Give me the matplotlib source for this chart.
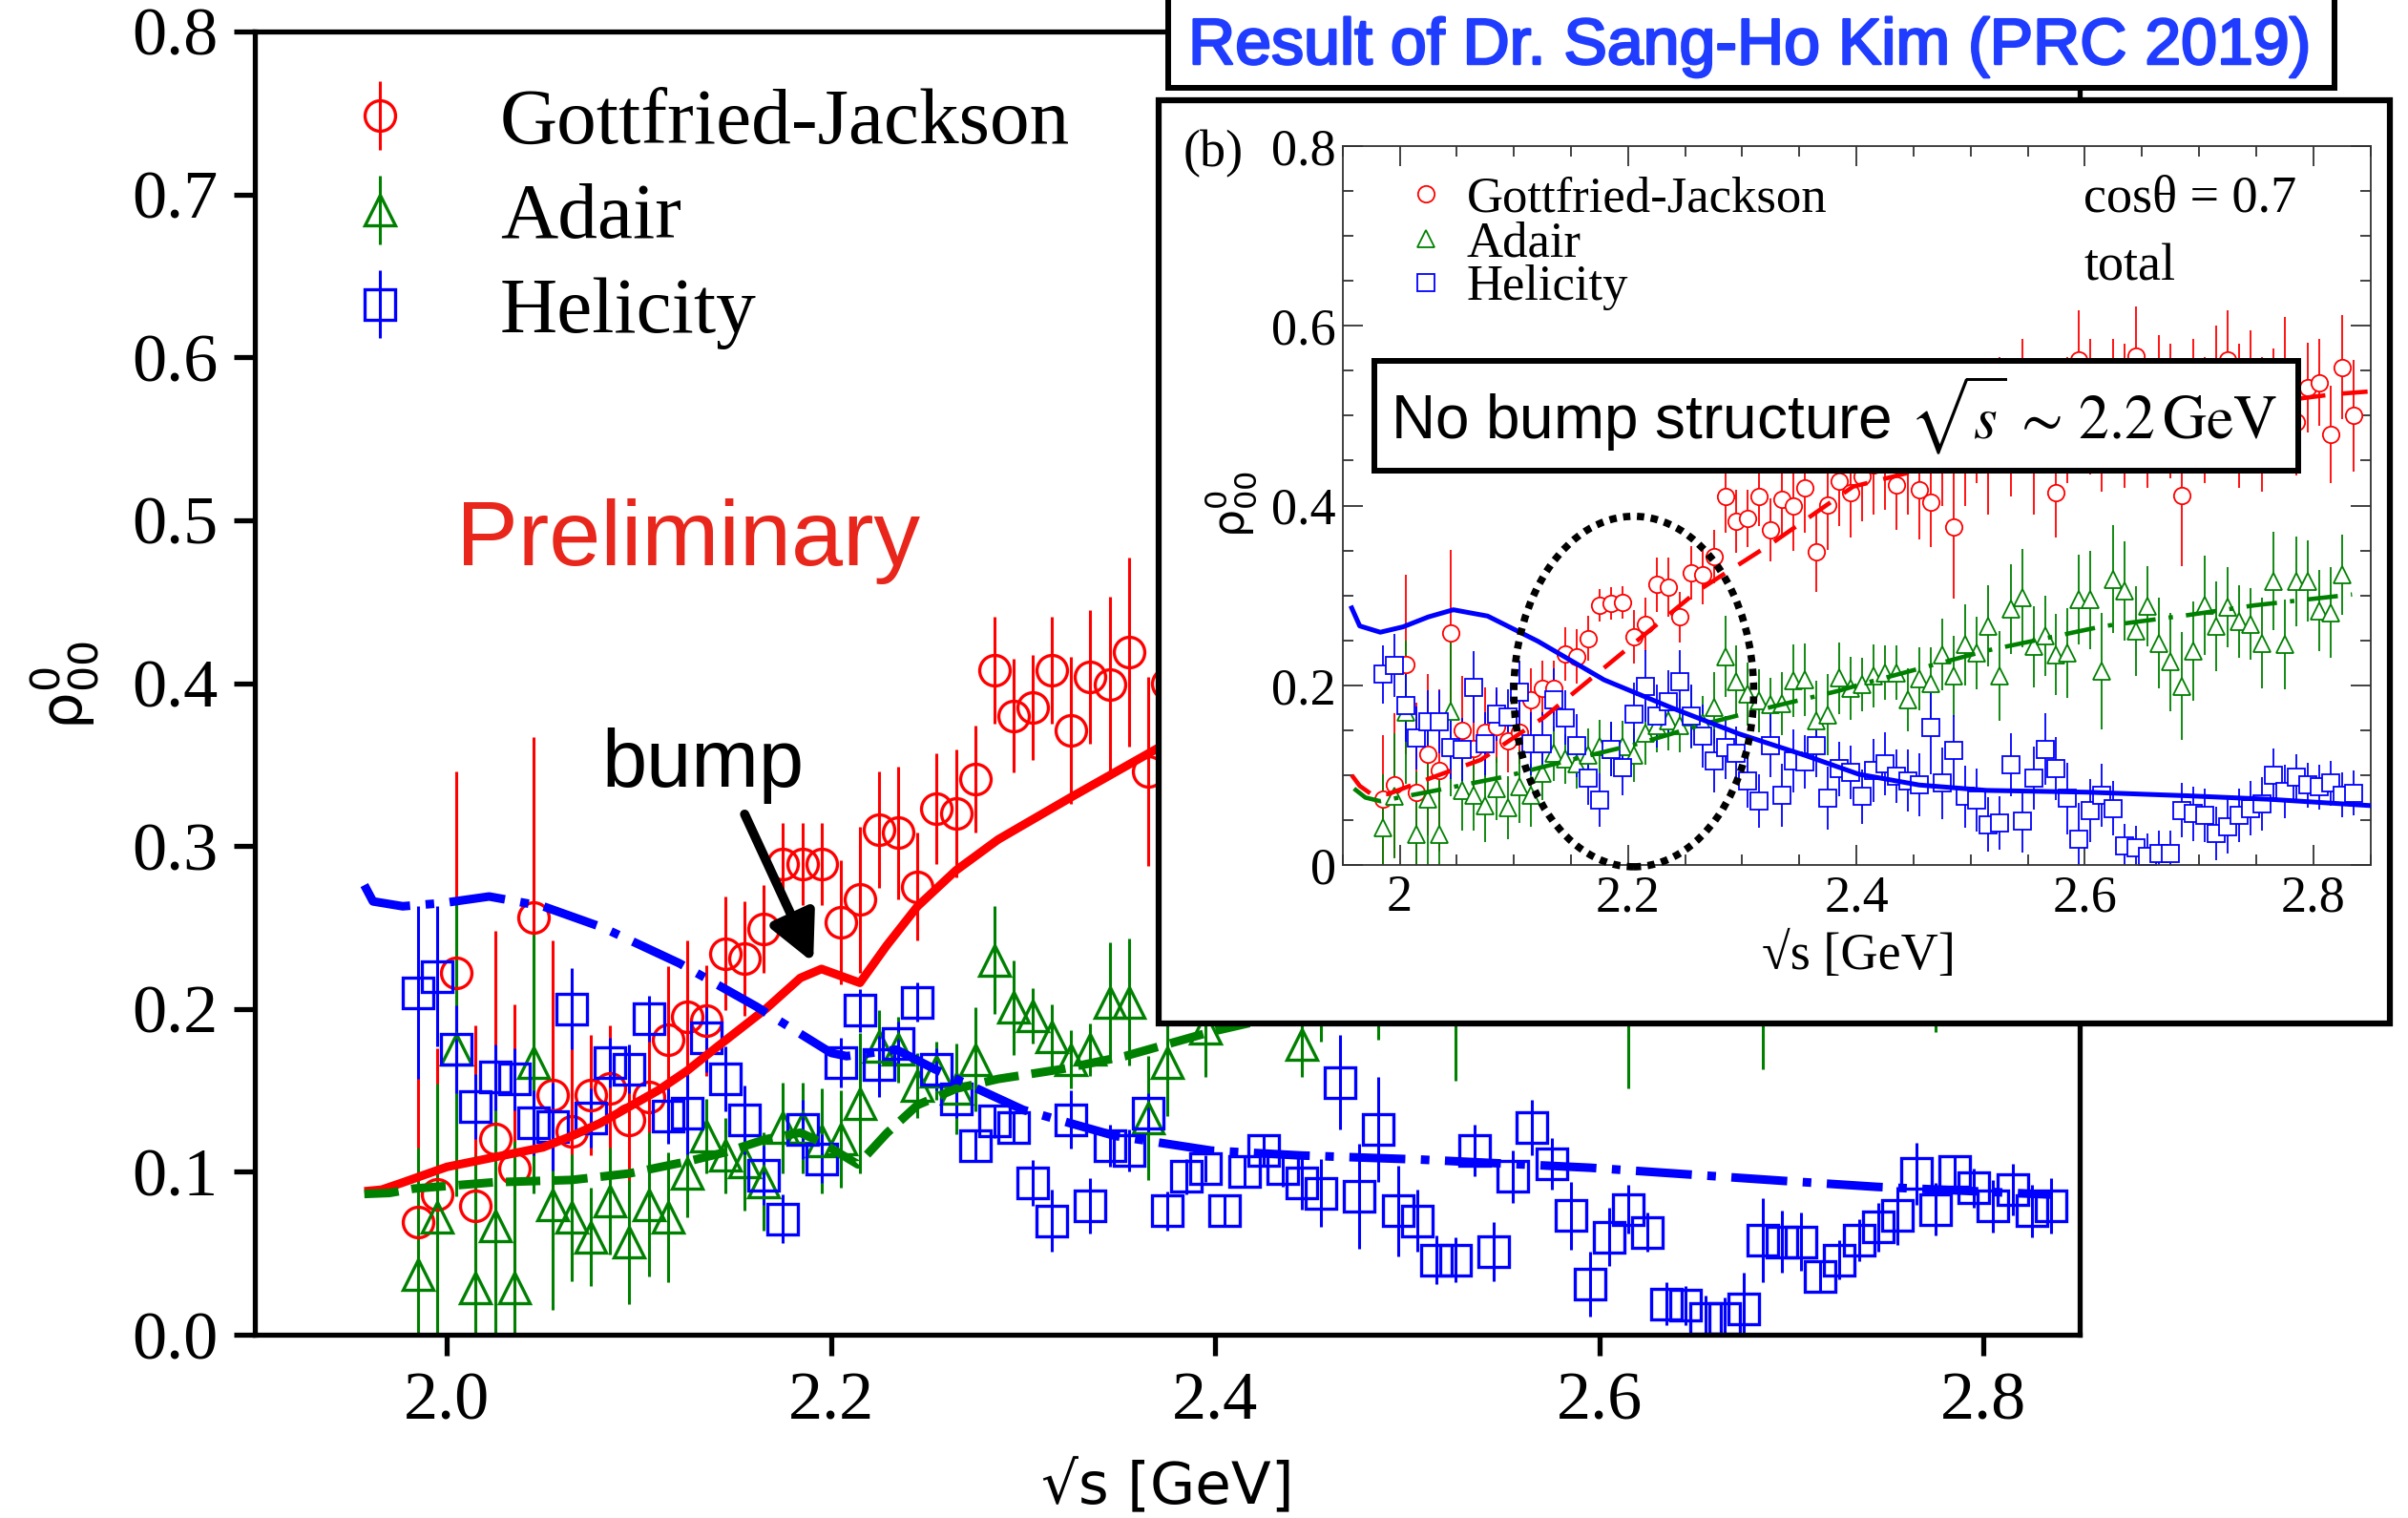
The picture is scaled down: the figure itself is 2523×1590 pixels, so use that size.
import matplotlib
matplotlib.use("Agg")
import matplotlib.pyplot as plt
import matplotlib.patheffects as pe
from matplotlib.patches import Rectangle, Ellipse
from matplotlib.container import ErrorbarContainer
from matplotlib.legend_handler import HandlerErrorbar
from matplotlib.lines import Line2D
from matplotlib.ticker import FormatStrFormatter, MultipleLocator

plt.rcParams['font.family'] = ['Liberation Serif', 'DejaVu Serif']

# ---------------- main plot data ----------------
main_x = [1.985, 1.995, 2.005, 2.015, 2.025, 2.035, 2.045, 2.055, 2.065, 2.075,
          2.085, 2.095, 2.105, 2.115, 2.125, 2.135, 2.145, 2.155, 2.165, 2.175,
          2.185, 2.195, 2.205, 2.215, 2.225, 2.235, 2.245, 2.255, 2.265, 2.275,
          2.285, 2.295, 2.305, 2.315, 2.325, 2.335, 2.345, 2.355, 2.365, 2.375]
main_gj_y = [0.069, 0.086, 0.222, 0.079, 0.120, 0.102, 0.256, 0.147, 0.125, 0.147,
             0.151, 0.132, 0.146, 0.181, 0.195, 0.193, 0.234, 0.231, 0.249, 0.289,
             0.289, 0.289, 0.253, 0.267, 0.310, 0.308, 0.275, 0.323, 0.320, 0.341,
             0.408, 0.380, 0.385, 0.408, 0.371, 0.404, 0.399, 0.419, 0.346, 0.400]
main_gj_err = [.090, .090, .124, .111, .128, .101, .111, .095, .090, .037,
               .039, .040, .041, .045, .047, .034, .035, .035, .027, .025,
               .025, .025, .038, .045, .036, .041, .033, .034, .039, .033,
               .033, .035, .032, .033, .045, .041, .054, .058, .058, .050]

main_ad_x = main_x + [2.395, 2.445, 2.455, 2.485, 2.525, 2.615, 2.685, 2.775]
main_ad_y = [0.037, 0.072, 0.175, 0.029, 0.067, 0.029, 0.167, 0.080, 0.072, 0.060,
             0.082, 0.057, 0.080, 0.072, 0.099, 0.122, 0.110, 0.106, 0.094, 0.127,
             0.127, 0.119, 0.120, 0.142, 0.177, 0.175, 0.153, 0.162, 0.151, 0.169,
             0.230, 0.201, 0.196, 0.183, 0.169, 0.175, 0.204, 0.204, 0.133, 0.167,
             0.188, 0.178, 0.215, 0.235, 0.220, 0.230, 0.205, 0.230]
main_ad_err = [.078, .082, .090, .081, .104, .090, .080, .065, .039, .030,
               .033, .038, .044, .040, .027, .023, .023, .030, .030, .028,
               .028, .032, .030, .043, .022, .020, .020, .018, .028, .032,
               .033, .029, .017, .020, .018, .016, .037, .039, .038, .033,
               .030, .020, .035, .054, .064, .079, .042, .044]

full_x = main_x + [2.385, 2.395, 2.405, 2.415, 2.425, 2.435, 2.445, 2.455, 2.465, 2.475,
                   2.485, 2.495, 2.505, 2.515, 2.525, 2.535, 2.545, 2.555, 2.565, 2.575,
                   2.585, 2.595, 2.605, 2.615, 2.625, 2.635, 2.645, 2.655, 2.665, 2.675,
                   2.685, 2.695, 2.705, 2.715, 2.725, 2.735, 2.745, 2.755, 2.765, 2.775,
                   2.785, 2.795, 2.805, 2.815, 2.825, 2.835]
main_hel_y = [0.210, 0.220, 0.175, 0.140, 0.158, 0.157, 0.130, 0.128, 0.200, 0.133,
              0.167, 0.163, 0.194, 0.134, 0.136, 0.182, 0.157, 0.132, 0.098, 0.071,
              0.126, 0.108, 0.167, 0.199, 0.166, 0.179, 0.204, 0.163, 0.145, 0.116,
              0.131, 0.127, 0.093, 0.070, 0.132, 0.079, 0.116, 0.113, 0.136, 0.076,
              0.097, 0.102, 0.076, 0.100, 0.113, 0.102, 0.093, 0.087, 0.155, 0.085,
              0.126, 0.076, 0.070, 0.046, 0.046, 0.113, 0.051, 0.097, 0.127, 0.105,
              0.073, 0.031, 0.060, 0.077, 0.063, 0.019, 0.018, 0.010, 0.010, 0.016,
              0.058, 0.057, 0.057, 0.036, 0.046, 0.058, 0.066, 0.073, 0.099, 0.077,
              0.100, 0.090, 0.079, 0.089, 0.076, 0.079]
main_hel_err = [.053, .043, .027, .020, .020, .019, .020, .027, .025, .018,
                .015, .015, .014, .017, .025, .021, .020, .021, .018, .015,
                .018, .015, .015, .013, .020, .013, .012, .013, .012, .010,
                .010, .010, .014, .019, .018, .017, .013, .013, .012, .012,
                .011, .008, .010, .010, .009, .011, .016, .021, .029, .032,
                .032, .028, .019, .015, .014, .016, .018, .016, .017, .016,
                .021, .020, .018, .015, .012, .013, .012, .014, .013, .022,
                .026, .019, .018, .010, .012, .013, .015, .018, .019, .016,
                .010, .012, .016, .016, .016, .017]

# model curves (main)
gj_line_x = [1.957, 1.966, 1.976, 2.0, 2.025, 2.05, 2.065, 2.08, 2.092, 2.11, 2.125,
             2.141, 2.166, 2.184, 2.195, 2.215, 2.229, 2.245, 2.265, 2.287, 2.325, 2.37, 2.40, 2.45]
gj_line_y = [0.088, 0.089, 0.093, 0.103, 0.109, 0.115, 0.122, 0.130, 0.138, 0.150, 0.162,
             0.177, 0.200, 0.219, 0.2245, 0.216, 0.239, 0.263, 0.285, 0.304, 0.330, 0.360, 0.375, 0.40]
ad_line_x = [1.957, 1.97, 1.983, 2.025, 2.065, 2.095, 2.125, 2.145, 2.166, 2.184, 2.195,
             2.214, 2.229, 2.245, 2.265, 2.287, 2.32, 2.353, 2.398, 2.45]
ad_line_y = [0.0864, 0.087, 0.0897, 0.0936, 0.095, 0.099, 0.1063, 0.112, 0.12, 0.124, 0.118,
             0.1045, 0.1237, 0.141, 0.151, 0.157, 0.163, 0.171, 0.186, 0.20]
hel_line_x = [1.957, 1.9615, 1.977, 1.998, 2.022, 2.05, 2.081, 2.121, 2.161, 2.2, 2.208,
              2.234, 2.254, 2.3, 2.348, 2.398, 2.445, 2.507, 2.595, 2.695, 2.745, 2.835]
hel_line_y = [0.276, 0.266, 0.263, 0.265, 0.269, 0.263, 0.250, 0.228, 0.2015, 0.173, 0.171,
              0.175, 0.163, 0.138, 0.122, 0.113, 0.110, 0.1075, 0.1025, 0.0945, 0.0907, 0.086]

# ---------------- inset data ----------------
in_gj_y = [0.073, 0.089, 0.223, 0.081, 0.123, 0.105, 0.258, 0.150, 0.130, 0.148,
           0.154, 0.138, 0.148, 0.184, 0.197, 0.197, 0.235, 0.232, 0.252, 0.289,
           0.291, 0.292, 0.254, 0.268, 0.312, 0.309, 0.276, 0.325, 0.323, 0.343,
           0.410, 0.382, 0.386, 0.410, 0.373, 0.407, 0.400, 0.420, 0.349, 0.401,
           0.427, 0.414, 0.432, 0.445, 0.450, 0.423, 0.450, 0.417, 0.404, 0.460,
           0.376, 0.470, 0.490, 0.465, 0.505, 0.480, 0.520, 0.470, 0.500, 0.414,
           0.495, 0.562, 0.510, 0.480, 0.525, 0.500, 0.566, 0.490, 0.530, 0.505,
           0.411, 0.520, 0.495, 0.540, 0.562, 0.500, 0.530, 0.490, 0.515, 0.545,
           0.493, 0.531, 0.537, 0.479, 0.554, 0.500]
in_gj_err = [.072, .080, .100, .100, .090, .090, .093, .060, .060, .050,
             .040, .035, .035, .035, .030, .030, .030, .030, .025, .018,
             .018, .018, .030, .030, .030, .033, .028, .030, .033, .030,
             .040, .035, .032, .033, .035, .040, .050, .050, .045, .050,
             .050, .050, .050, .055, .055, .050, .060, .055, .050, .060,
             .080, .070, .065, .075, .060, .070, .065, .080, .060, .050,
             .070, .055, .075, .065, .060, .080, .055, .070, .060, .075,
             .078, .065, .070, .060, .055, .080, .065, .075, .060, .065,
             .060, .050, .048, .054, .058, .062]
in_ad_y = [0.041, 0.077, 0.170, 0.034, 0.073, 0.034, 0.171, 0.083, 0.078, 0.066,
           0.085, 0.064, 0.087, 0.078, 0.102, 0.124, 0.118, 0.113, 0.122, 0.132,
           0.129, 0.132, 0.122, 0.147, 0.155, 0.160, 0.155, 0.165, 0.158, 0.175,
           0.232, 0.204, 0.190, 0.183, 0.178, 0.180, 0.205, 0.206, 0.160, 0.167,
           0.208, 0.197, 0.201, 0.210, 0.214, 0.214, 0.184, 0.207, 0.202, 0.234,
           0.210, 0.245, 0.236, 0.266, 0.210, 0.285, 0.297, 0.243, 0.255, 0.234,
           0.236, 0.295, 0.295, 0.216, 0.318, 0.305, 0.260, 0.288, 0.247, 0.226,
           0.199, 0.238, 0.289, 0.266, 0.287, 0.271, 0.268, 0.247, 0.316, 0.245,
           0.316, 0.316, 0.283, 0.281, 0.323]
in_ad_err = [.060, .070, .080, .070, .090, .080, .095, .045, .040, .040,
             .035, .035, .040, .035, .030, .030, .028, .028, .030, .030,
             .030, .028, .030, .035, .030, .032, .030, .035, .030, .040,
             .045, .040, .035, .035, .030, .035, .040, .040, .045, .045,
             .040, .035, .030, .035, .030, .030, .035, .035, .040, .040,
             .045, .045, .040, .045, .050, .050, .055, .045, .045, .045,
             .050, .050, .055, .065, .060, .055, .050, .045, .050, .055,
             .060, .055, .055, .050, .045, .040, .040, .050, .055, .050,
             .050, .045, .045, .050, .045]
in_hel_y = [0.212, 0.222, 0.177, 0.141, 0.159, 0.159, 0.131, 0.129, 0.198, 0.135,
            0.168, 0.165, 0.192, 0.135, 0.135, 0.184, 0.164, 0.133, 0.097, 0.072,
            0.129, 0.108, 0.168, 0.199, 0.166, 0.182, 0.204, 0.166, 0.143, 0.116,
            0.131, 0.124, 0.094, 0.071, 0.133, 0.078, 0.116, 0.115, 0.133, 0.074,
            0.107, 0.103, 0.076, 0.105, 0.113, 0.099, 0.094, 0.089, 0.153, 0.091,
            0.127, 0.076, 0.072, 0.045, 0.047, 0.112, 0.049, 0.097, 0.129, 0.107,
            0.074, 0.029, 0.061, 0.078, 0.063, 0.021, 0.019, 0.010, 0.013, 0.013,
            0.061, 0.057, 0.055, 0.035, 0.043, 0.055, 0.063, 0.068, 0.100, 0.082,
            0.098, 0.089, 0.087, 0.091, 0.078, 0.080]
in_hel_err = [.032, .035, .040, .035, .035, .035, .035, .035, .040, .035,
              .030, .030, .035, .035, .035, .035, .030, .035, .030, .030,
              .030, .030, .035, .040, .035, .035, .035, .035, .035, .035,
              .035, .030, .030, .030, .035, .035, .035, .030, .035, .035,
              .030, .030, .030, .035, .035, .030, .035, .035, .052, .040,
              .040, .035, .035, .030, .030, .035, .035, .035, .040, .035,
              .040, .040, .035, .035, .030, .025, .025, .025, .025, .025,
              .030, .030, .030, .030, .030, .030, .030, .030, .030, .030,
              .025, .025, .025, .025, .025, .025]

in_gj_line_x = [1.958, 1.965, 1.975, 1.99, 2.032, 2.071, 2.126, 2.194, 2.261, 2.326, 2.397,
                2.444, 2.55, 2.65, 2.75, 2.819, 2.85]
in_gj_line_y = [0.100, 0.088, 0.079, 0.079, 0.099, 0.117, 0.164, 0.235, 0.305, 0.358, 0.421,
                0.436, 0.470, 0.495, 0.513, 0.524, 0.527]
in_ad_line_x = [1.96, 1.97, 1.983, 2.032, 2.091, 2.150, 2.209, 2.267, 2.326, 2.385, 2.405,
                2.514, 2.616, 2.69, 2.749, 2.834]
in_ad_line_y = [0.085, 0.075, 0.071, 0.083, 0.098, 0.117, 0.135, 0.157, 0.176, 0.194, 0.2015,
                0.2385, 0.2657, 0.278, 0.289, 0.301]
in_hel_line_x = [1.958, 1.965, 1.983, 2.003, 2.025, 2.047, 2.077, 2.121, 2.179, 2.238, 2.297,
                 2.355, 2.402, 2.455, 2.514, 2.602, 2.69, 2.763, 2.851]
in_hel_line_y = [0.286, 0.266, 0.259, 0.265, 0.276, 0.284, 0.277, 0.249, 0.206, 0.175, 0.146,
                 0.122, 0.101, 0.089, 0.083, 0.081, 0.077, 0.073, 0.066]

labels = ['Gottfried-Jackson', 'Adair', 'Helicity']
RED, GREEN, BLUE = '#ff0000', '#008000', '#0000ff'

W, H = 2523, 1590
fig = plt.figure(figsize=(W / 100, H / 100), dpi=100)


def box(x0, y0, x1, y1):
    # pixel box (top-left origin) -> figure fraction rect
    return [x0 / W, 1 - y1 / H, (x1 - x0) / W, (y1 - y0) / H]


def px(x, y):
    return x / W, 1 - y / H


# ---------------- main axes ----------------
ax = fig.add_axes(box(267, 33, 2179, 1398))
ax.set_xlim(1.9, 2.85)
ax.set_ylim(0, 0.8)
ax.set_xticks([2.0, 2.2, 2.4, 2.6, 2.8])
ax.set_yticks([0.0, 0.1, 0.2, 0.3, 0.4, 0.5, 0.6, 0.7, 0.8])
ax.xaxis.set_major_formatter(FormatStrFormatter('%.1f'))
ax.yaxis.set_major_formatter(FormatStrFormatter('%.1f'))
for s in ax.spines.values():
    s.set_linewidth(3.8)
ax.tick_params(direction='out', length=16, width=3.8, labelsize=52, pad=12)

mk = dict(ms=23, mew=2.4, elinewidth=2.2, capsize=0, linestyle='none', zorder=2)
e1 = ax.errorbar(main_x, main_gj_y, yerr=main_gj_err, fmt='o', color=RED,
                 mfc='none', mec=RED, ecolor=RED, **mk)
e2 = ax.errorbar(main_ad_x, main_ad_y, yerr=main_ad_err, fmt='^', color=GREEN,
                 mfc='none', mec=GREEN, ecolor=GREEN, **mk)
e3 = ax.errorbar(full_x, main_hel_y, yerr=main_hel_err, fmt='s', color=BLUE,
                 mfc='none', mec=BLUE, ecolor=BLUE, **mk)

ax.plot(gj_line_x, gj_line_y, color=RED, lw=6.5, zorder=3, solid_capstyle='butt')
ax.plot(ad_line_x, ad_line_y, color=GREEN, lw=6.5, dashes=(4.0, 1.5), zorder=3)
ax.plot(hel_line_x, hel_line_y, color=BLUE, lw=6.5, dashes=(6.5, 1.8, 1, 1.8), zorder=3)

leg = ax.legend([e1, e2, e3], labels, loc='upper left', bbox_to_anchor=(0.048, 0.957),
                frameon=False, fontsize=60, handlelength=0.95, handletextpad=1.03,
                labelspacing=0.27, borderpad=0, borderaxespad=0,
                handler_map={ErrorbarContainer: HandlerErrorbar(xerr_size=0.43)})

ax.text(2.005, 0.4725, 'Preliminary', family='Liberation Sans', size=70,
        color='#e8261c', va='baseline')
ax.text(2.0804, 0.3365, 'bump', family='Liberation Sans', size=61,
        color='black', va='baseline')
ax.annotate('', xy=(2.1907, 0.2284), xytext=(2.155, 0.3195),
            arrowprops=dict(arrowstyle='-|>', lw=7, color='black',
                            mutation_scale=75, shrinkA=0, shrinkB=0))

fig.text(*px(68, 718), r'$\mathrm{\rho}^0_{00}$', math_fontfamily='dejavusans', size=44,
         rotation=90, ha='center', va='center')
fig.text(*px(1223, 1559), '√s [GeV]', family='DejaVu Sans', size=44,
         ha='center', va='center')

# ---------------- title box and inset frame ----------------
tb = box(1224, -20, 2446, 92)
fig.add_artist(Rectangle(tb[:2], tb[2], tb[3], transform=fig.transFigure,
                         facecolor='white', edgecolor='black', lw=4.3, zorder=2))
fig.text(*px(1833, 67), 'Result of Dr. Sang-Ho Kim (PRC 2019)', family='Liberation Sans',
         size=49, color='#1f3cff', ha='center', va='baseline', zorder=6,
         path_effects=[pe.withStroke(linewidth=1.8, foreground='#1f3cff')])

fr = box(1214, 105, 2504, 1072)
fig.add_artist(Rectangle(fr[:2], fr[2], fr[3], transform=fig.transFigure,
                         facecolor='white', edgecolor='black', lw=4.5, zorder=2))

# ---------------- inset axes ----------------
axi = fig.add_axes(box(1406.7, 153, 2483.5, 906), zorder=3)
axi.set_facecolor('none')
axi.set_xlim(1.95, 2.85)
axi.set_ylim(0, 0.8)
axi.set_xticks([2.0, 2.2, 2.4, 2.6, 2.8])
axi.set_yticks([0, 0.2, 0.4, 0.6, 0.8])
axi.xaxis.set_minor_locator(MultipleLocator(0.05))
axi.yaxis.set_minor_locator(MultipleLocator(0.05))
axi.xaxis.set_major_formatter(FormatStrFormatter('%g'))
axi.yaxis.set_major_formatter(FormatStrFormatter('%g'))
for s in axi.spines.values():
    s.set_linewidth(1.3)
    s.set_color('#333333')
axi.tick_params(which='both', direction='in', top=True, right=True, width=1.3,
                color='#333333', labelsize=39)
axi.tick_params(which='major', length=15)
axi.tick_params(which='minor', length=8)
axi.tick_params(axis='x', pad=7)
axi.tick_params(axis='y', pad=5)

ik = dict(ms=12.5, mew=1.3, elinewidth=1.3, capsize=0, linestyle='none',
          mfc='white', zorder=2)
axi.errorbar(full_x, in_gj_y, yerr=in_gj_err, fmt='o', mec=RED, ecolor=RED, **ik)
axi.errorbar(full_x[:85], in_ad_y, yerr=in_ad_err, fmt='^', mec=GREEN, ecolor=GREEN, **ik)
axi.errorbar(full_x, in_hel_y, yerr=in_hel_err, fmt='s', mec=BLUE, ecolor=BLUE, **ik)

axi.plot(in_gj_line_x, in_gj_line_y, color=RED, lw=3.3, dashes=(6, 3.7), zorder=3)
axi.plot(in_ad_line_x, in_ad_line_y, color=GREEN, lw=3.3, dashes=(7, 3, 1, 3), zorder=3)
axi.plot(in_hel_line_x, in_hel_line_y, color=BLUE, lw=3.6, zorder=3)

axi.add_patch(Ellipse((2.205, 0.193), 0.21, 0.39, fill=False, edgecolor='black',
                      lw=5.5, linestyle=(0, (1, 0.9)), zorder=4, clip_on=False))

ih = [Line2D([], [], marker=m, ls='none', ms=12.5, mew=1.3, mfc='white', mec=c)
      for m, c in zip(['o', '^', 's'], [RED, GREEN, BLUE])]
axi.legend(ih, labels, loc='upper left', bbox_to_anchor=(0.066, 0.958), frameon=False,
           fontsize=38, handlelength=0.6, handletextpad=0.52, labelspacing=-0.03,
           borderpad=0, borderaxespad=0)

fig.text(*px(1240, 161), '(b)', size=39, ha='left', va='center', zorder=6)
fig.text(*px(2183, 222), 'cosθ = 0.7', size=39, ha='left', va='baseline', zorder=6)
fig.text(*px(2183, 293), 'total', size=39, ha='left', va='baseline', zorder=6)
fig.text(*px(1290, 528), r'$\mathrm{\rho}^0_{00}$', math_fontfamily='dejavusans', size=33,
         rotation=90, ha='center', va='center', zorder=6)
fig.text(*px(1947, 1002), '√s [GeV]', size=39, ha='center', va='center', zorder=6)

nb = box(1440, 378, 2408, 493)
fig.add_artist(Rectangle(nb[:2], nb[2], nb[3], transform=fig.transFigure,
                         facecolor='white', edgecolor='black', lw=4.3, zorder=5))
fig.text(*px(1922, 459), r'No bump structure $\sqrt{s}\,\sim\,2.2\,\mathrm{GeV}$',
         family='Liberation Sans', math_fontfamily='stix', size=46,
         ha='center', va='baseline', zorder=6)

fig.savefig('out.png', dpi=100)
